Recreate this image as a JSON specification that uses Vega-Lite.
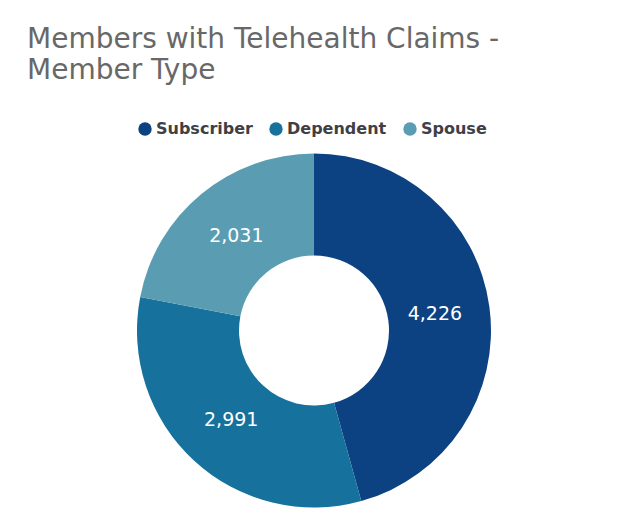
{
  "$schema": "https://vega.github.io/schema/vega-lite/v6.json",
  "width": 628,
  "height": 529,
  "autosize": {"type": "fit", "contains": "padding"},
  "padding": {"left": 0, "right": 0, "top": 25, "bottom": 15},
  "background": "white",
  "title": {
    "text": ["Members with Telehealth Claims -", "Member Type"],
    "anchor": "start",
    "frame": "bounds",
    "dx": 27,
    "font": "DejaVu Sans",
    "fontSize": 28,
    "fontWeight": "normal",
    "color": "#686868",
    "lineHeight": 31.5,
    "offset": 62
  },
  "data": {
    "values": [
      {"type": "Subscriber", "members": 4226, "rank": 1},
      {"type": "Dependent", "members": 2991, "rank": 2},
      {"type": "Spouse", "members": 2031, "rank": 3}
    ]
  },
  "encoding": {
    "theta": {"field": "members", "type": "quantitative", "stack": true},
    "order": {"field": "rank", "type": "quantitative"},
    "color": {
      "field": "type",
      "type": "nominal",
      "sort": ["Subscriber", "Dependent", "Spouse"],
      "scale": {
        "domain": ["Subscriber", "Dependent", "Spouse"],
        "range": ["#0d4282", "#17719d", "#5a9db2"]
      },
      "legend": {
        "orient": "none",
        "legendX": 137,
        "legendY": -26,
        "direction": "horizontal",
        "title": null,
        "symbolType": "circle",
        "symbolSize": 180,
        "labelFont": "DejaVu Sans",
        "labelFontSize": 16,
        "labelFontWeight": "bold",
        "labelColor": "#3f3f46",
        "labelOffset": 3,
        "columnPadding": 15
      }
    }
  },
  "layer": [
    {"mark": {"type": "arc", "innerRadius": 75, "outerRadius": 177}},
    {
      "mark": {"type": "text", "radius": 122, "fontSize": 19, "font": "DejaVu Sans"},
      "encoding": {
        "text": {"field": "members", "type": "quantitative", "format": ","},
        "color": {"value": "white"}
      }
    }
  ],
  "config": {"view": {"stroke": null}}
}
